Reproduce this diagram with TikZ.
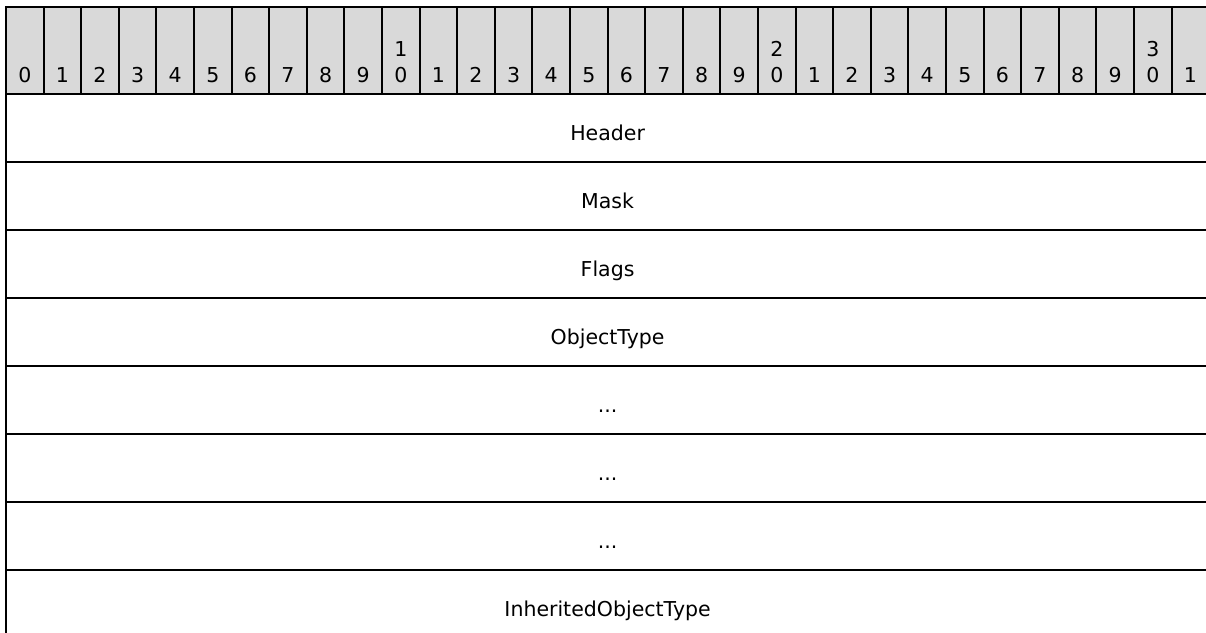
\documentclass[tikz,border=0pt]{standalone}
\usepackage{fontspec}
\setmainfont{DejaVu Sans}
\definecolor{hdrgray}{HTML}{D9D9D9}
\begin{document}
\begin{tikzpicture}[x=1pt,y=-1pt,line width=2pt,
  every node/.style={font=\fontsize{20.5}{24}\selectfont},
  bitcell/.style={draw=black,fill=hdrgray,minimum width=37.6pt,minimum height=87pt,inner sep=0pt,outer sep=0pt},
  rowbox/.style={draw=black,minimum width=1203.2pt,minimum height=68pt,inner sep=0pt,outer sep=0pt,text height=24pt,text depth=0pt},
  digit/.style={anchor=base,inner sep=0pt}]
\useasboundingbox (0,0) rectangle (1206,632);
\clip (0,0) rectangle (1206,632);
\foreach \i in {0,...,31}{
  \node[bitcell] (b\i) at ({6+(\i+0.5)*37.6},50.5) {};
}
\foreach \i in {0,...,31}{
  \pgfmathtruncatemacro\lo{mod(\i,10)}
  \node[digit] (lo\i) at ([yshift=12pt]b\i.south) {\lo};
}
\foreach \i/\t in {10/1,20/2,30/3}{
  \node[digit] (hi\i) at ([yshift=37.5pt]b\i.south) {\t};
}
\node[rowbox] (r0) at (607.6,128) {Header};
\node[rowbox] (r1) at (607.6,196) {Mask};
\node[rowbox] (r2) at (607.6,264) {Flags};
\node[rowbox] (r3) at (607.6,332) {ObjectType};
\node[rowbox] (r4) at (607.6,400) {...};
\node[rowbox] (r5) at (607.6,468) {...};
\node[rowbox] (r6) at (607.6,536) {...};
\node[rowbox] (r7) at (607.6,604) {InheritedObjectType};
\end{tikzpicture}
\end{document}
